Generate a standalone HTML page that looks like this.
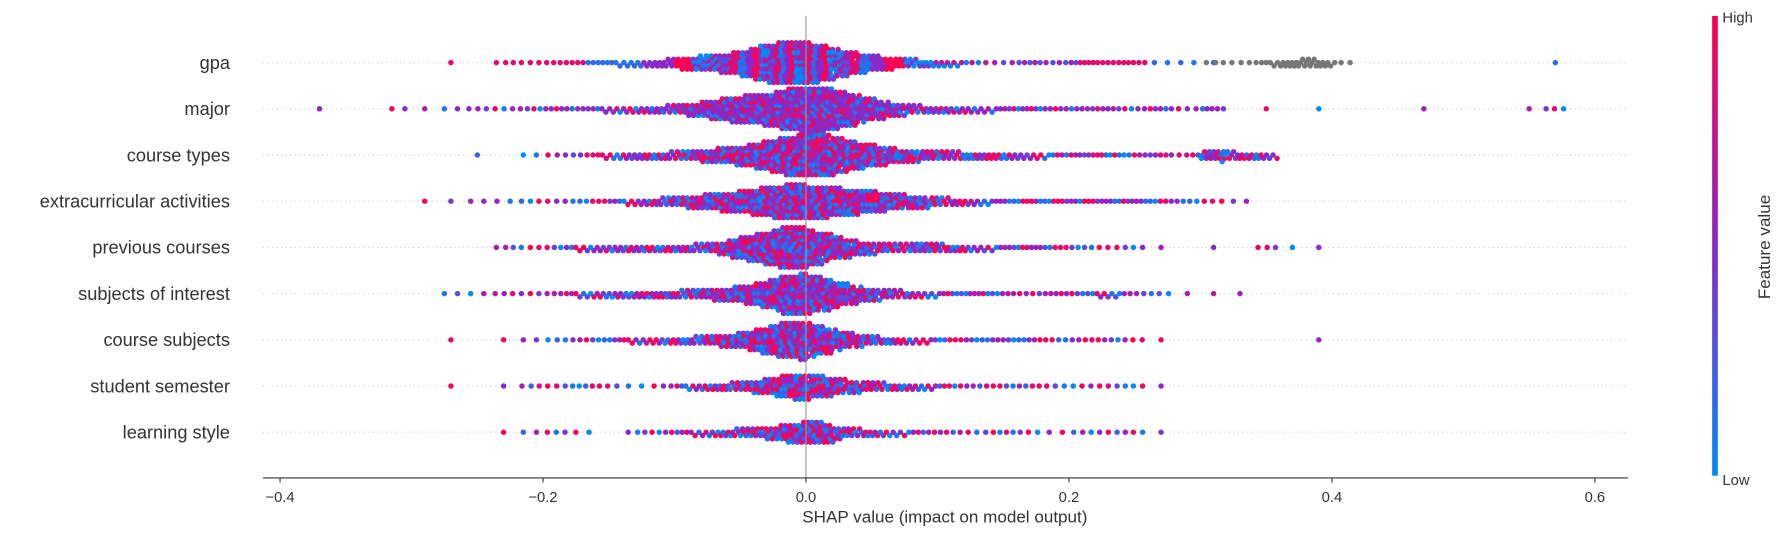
<!DOCTYPE html>
<html><head><meta charset="utf-8"><style>
html,body{margin:0;padding:0;background:#fff;}
svg{display:block;font-family:"Liberation Sans","DejaVu Sans",sans-serif;}
</style></head><body>
<svg id="chart" width="1785" height="536" viewBox="0 0 1568 471" preserveAspectRatio="none">
<defs><linearGradient id="cbar" x1="0" y1="1" x2="0" y2="0">
<stop offset="0" stop-color="rgb(0,138,250)"/><stop offset="0.5" stop-color="rgb(140,40,200)"/><stop offset="1" stop-color="rgb(255,0,82)"/></linearGradient></defs>
<g id="rows"></g>
<g id="points"></g>
<line x1="708" y1="14" x2="708" y2="420" stroke="#999" stroke-width="1"/>
<line x1="231" y1="420" x2="1430" y2="420" stroke="#333" stroke-width="1"/>
<g id="ticks"></g>
<text x="830" y="459" font-size="15" text-anchor="middle" fill="#333">SHAP value (impact on model output)</text>
<rect x="1504" y="14" width="5" height="404" fill="url(#cbar)"/>
<text x="1513" y="20" font-size="13" fill="#333">High</text>
<text x="1513" y="426" font-size="13" fill="#333">Low</text>
<text x="1555" y="217" font-size="15" fill="#333" text-anchor="middle" transform="rotate(-90 1555 217)">Feature value</text>
</svg>
<script>
const features = ["gpa","major","course types","extracurricular activities","previous courses","subjects of interest","course subjects","student semester","learning style"];
// counts per bin of width 0.02 starting at -0.38 (48 bins)
const gpaCounts = [0,0,0,0,0,1,0,3,3,4,5,6,8,12,22,30,45,70,80,70,45,30,18,12,8,4,3,5,4,6,5,5,2,2,1,0,0,0,0,0,0,0,0,0,0,0,0,1];
const gpaMissing = [0,0,0,0,0,0,0,0,0,0,0,0,0,0,0,0,0,0,0,0,0,0,0,0,0,0,0,0,0,0,0,0,0,0,3,3,6,12,12,3,0,0,0,0,0,0,0,0];
const majorCounts = [1,0,0,2,1,2,3,3,4,5,5,7,9,12,20,35,50,60,80,85,65,40,22,12,10,8,6,6,5,5,5,4,5,3,5,0,1,0,1,0,0,0,1,0,0,0,1,3];
const courseTypesCounts = [0,0,0,0,0,0,1,0,2,3,4,7,10,12,16,25,35,55,75,80,60,40,25,18,14,12,10,8,6,6,6,5,5,4,18,12,9,0,0,0,0,0,0,0,0,0,0,0];
const extracurricularCounts = [0,0,0,0,1,1,2,2,3,3,4,5,8,13,20,30,40,55,65,60,50,40,28,20,12,8,6,6,6,6,6,6,5,4,3,2,0,0,0,0,0,0,0,0,0,0,0,0];
const previousCoursesCounts = [0,0,0,0,0,0,0,3,3,4,7,9,10,10,12,18,40,60,80,60,35,20,14,16,12,8,6,6,5,4,3,3,1,0,1,0,3,1,1,0,0,0,0,0,0,0,0,0];
const subjectsInterestCounts = [0,0,0,0,0,2,2,3,3,4,7,9,10,12,14,20,30,50,75,65,40,22,13,8,6,6,5,4,5,5,7,4,3,1,1,1,0,0,0,0,0,0,0,0,0,0,0,0];
const courseSubjectsCounts = [0,0,0,0,0,1,0,1,2,3,4,5,7,9,12,18,28,50,70,55,30,16,10,7,5,5,5,5,4,4,4,3,1,0,0,0,0,0,1,0,0,0,0,0,0,0,0,0];
const semesterCounts = [0,0,0,0,0,1,0,1,3,3,4,3,2,3,7,11,16,28,45,40,25,16,11,8,5,4,4,4,3,3,3,3,1,0,0,0,0,0,0,0,0,0,0,0,0,0,0,0];
const learningStyleCounts = [0,0,0,0,0,0,0,1,2,3,2,0,3,4,6,9,14,20,35,40,18,11,7,5,4,3,4,3,2,3,3,3,1,0,0,0,0,0,0,0,0,0,0,0];
const allCounts = [gpaCounts,majorCounts,courseTypesCounts,extracurricularCounts,previousCoursesCounts,subjectsInterestCounts,courseSubjectsCounts,semesterCounts,learningStyleCounts];
// feature value patterns (0 = low, 1 = high), cycled over points
const colorPatterns = [
 [0.9,0.1,0.5,1,0.4,0.05,0.6,0.85,0.2,0.5,1,0,0.7,0.3],
 [0.5,0.6,0.45,0.9,0.1,0.55,0.5,1,0.4,0.6,0,0.5],
 [0.2,0.9,0.5,0.1,1,0.45,0.6,0,0.8,0.35,0.95],
 [1,0.5,0.2,0.9,0.6,0.1,0.95,0.4,0.55,0],
 [0.6,0.1,0.95,0.5,0.3,0.85,0,0.55,1,0.4],
 [0.1,0.6,0.9,0.4,0,0.55,1,0.3,0.7,0.5],
 [0.9,0.4,0.1,1,0.55,0.2,0.6,0.95,0,0.45],
 [1,0.2,0.85,0,0.6,0.95,0.1,0.5,0.9,0.3],
 [0.95,0.1,0.5,0.9,0,0.6,1,0.2,0.4]
];
const xTicks = [-0.4,-0.2,0.0,0.2,0.4,0.6];
const xTickLabels = ["\u22120.4","\u22120.2","0.0","0.2","0.4","0.6"];
const binStart = -0.38, binWidth = 0.02;

const NS="http://www.w3.org/2000/svg";
const xScale = v => 708 + v*1155;
const rowY = i => 55 + i*40.6;
function color(t){
  let a,b,u;
  if(t<0.5){a=[0,138,250];b=[140,40,200];u=t/0.5;}else{a=[140,40,200];b=[255,0,82];u=(t-0.5)/0.5;}
  return `rgb(${Math.round(a[0]+(b[0]-a[0])*u)},${Math.round(a[1]+(b[1]-a[1])*u)},${Math.round(a[2]+(b[2]-a[2])*u)})`;
}
const rowsG=document.getElementById('rows'), ptsG=document.getElementById('points'), ticksG=document.getElementById('ticks');
features.forEach((f,i)=>{
  const y=rowY(i);
  const l=document.createElementNS(NS,'line');
  
  
  l.setAttribute('x1',231);l.setAttribute('x2',1430);l.setAttribute('y1',y);l.setAttribute('y2',y);
  l.setAttribute('stroke','#ccc');l.setAttribute('stroke-dasharray','1,3');
  rowsG.appendChild(l);
  const t=document.createElementNS(NS,'text');
  
  
  t.setAttribute('x',202);t.setAttribute('y',y+5.5);t.setAttribute('text-anchor','end');
  t.setAttribute('font-size','16');t.setAttribute('fill','#333');t.textContent=f;
  rowsG.appendChild(t);
});
const MAXL=7, DX=3.6, DY=2.9;
const levels=[0];for(let l=1;l<=MAXL;l++){levels.push(l,-l);}
function invLin(q,dl,dr){
  const A=(dl+dr)/2, a=(dr-dl)/2;
  if(Math.abs(a)<1e-6) return q;
  return (-dl+Math.sqrt(Math.max(0,dl*dl+4*a*q*A)))/(2*a);
}
function drawBins(counts,i,colFn){
  const y0=rowY(i); const xs=[];
  counts.forEach((n,b)=>{
    if(!n) return;
    const cl = b>0?counts[b-1]:0, cr = b<counts.length-1?counts[b+1]:0;
    let dl=(cl+n)/2, dr=(cr+n)/2;
    if(n<=2){dl=dr=1;}
    for(let j=0;j<n;j++){
      const t=invLin((j+0.5)/n,dl,dr);
      xs.push(xScale(binStart + b*binWidth + binWidth*t));
    }
  });
  xs.sort((a,b)=>a-b);
  const last={};
  levels.forEach(l=>last[l]=-1e9);
  xs.forEach((x,k)=>{
    let lv=null;
    for(const l of levels){ if(x-last[l]>=DX){lv=l;break;} }
    if(lv===null){ lv=levels[0]; for(const l of levels){ if(last[l]<last[lv]) lv=l; } }
    last[lv]=x;
    const cc=document.createElementNS(NS,'circle');
    
    
    cc.setAttribute('cx',x.toFixed(1));
    cc.setAttribute('cy',(y0+lv*DY).toFixed(1));
    cc.setAttribute('r',2.4);
    cc.setAttribute('fill',colFn(k));
    ptsG.appendChild(cc);
  });
}
allCounts.forEach((counts,i)=>{
  const pat=colorPatterns[i];
  drawBins(counts,i,k=>color(pat[(k*7+Math.floor(k/pat.length))%pat.length]));
});
drawBins(gpaMissing,0,()=> '#777');
xTicks.forEach((v,i)=>{
  const x=xScale(v);
  const l=document.createElementNS(NS,'line');
  
  
  l.setAttribute('x1',x);l.setAttribute('x2',x);l.setAttribute('y1',420);l.setAttribute('y2',424);l.setAttribute('stroke','#333');
  ticksG.appendChild(l);
  const t=document.createElementNS(NS,'text');
  
  
  t.setAttribute('x',x);t.setAttribute('y',441);t.setAttribute('text-anchor','middle');
  t.setAttribute('font-size','13');t.setAttribute('fill','#333');t.textContent=xTickLabels[i];
  ticksG.appendChild(t);
});
</script>
</body></html>
